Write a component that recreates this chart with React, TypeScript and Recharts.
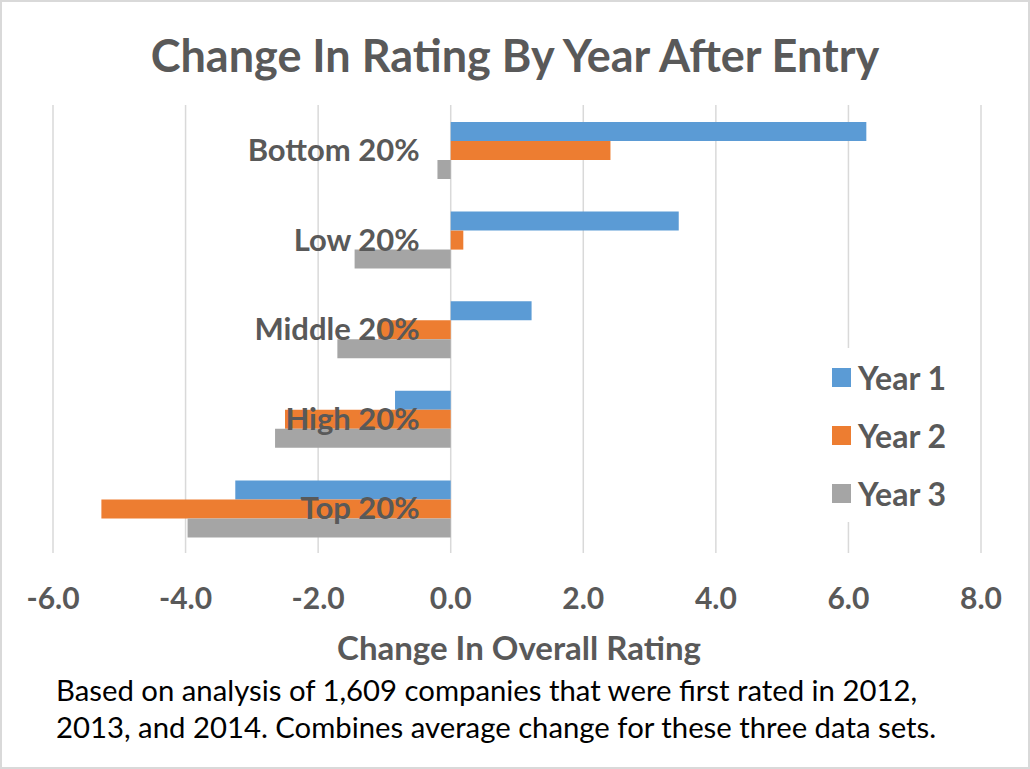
import { BarChart, Bar, XAxis, YAxis, CartesianGrid, Legend } from 'recharts';

// data
const categories = ['Bottom 20%', 'Low 20%', 'Middle 20%', 'High 20%', 'Top 20%'];
const year1 = [6.27, 3.44, 1.22, -0.84, -3.25];
const year2 = [2.41, 0.19, -1.09, -2.5, -5.27];
const year3 = [-0.2, -1.45, -1.71, -2.65, -3.97];
const seriesNames = ['Year 1', 'Year 2', 'Year 3'];
const xTicks = [-6, -4, -2, 0, 2, 4, 6, 8];

const colors = ['#5b9bd5', '#ed7d31', '#a5a5a5'];
const textGray = '#595959';
const font = 'Lato, "Open Sans", sans-serif';

const data = categories.map((name, i) => ({
    name,
    y1: year1[i],
    y2: year2[i],
    y3: year3[i],
}));

const W = 1030;
const H = 769;
const xAxisHeight = 60;
const yAxisWidth = 1;
const margin = { top: 105, right: 49, bottom: 216 - xAxisHeight, left: 53 - yAxisWidth };
const plotLeft = margin.left + yAxisWidth;
const plotWidth = W - plotLeft - margin.right;
const xMin = xTicks[0];
const xMax = xTicks[xTicks.length - 1];
// category labels sit next to the zero line, like Excel does
const zeroX = plotLeft + ((0 - xMin) / (xMax - xMin)) * plotWidth;

const CategoryTick = ({ y, payload }: any) => (
    <text
        x={zeroX - 31}
        y={y}
        dy="0.36em"
        textAnchor="end"
        fill={textGray}
        fontFamily={font}
        fontWeight={700}
        fontSize={31}
    >
        {payload.value}
    </text>
);

const ValueTick = ({ x, y, payload }: any) => (
    <text
        x={x}
        y={y + 56}
        textAnchor="middle"
        fill={textGray}
        fontFamily={font}
        fontWeight={700}
        fontSize={30}
    >
        {Number(payload.value).toFixed(1)}
    </text>
);

const AxisTitle = ({ viewBox }: any) => (
    <text
        x={viewBox.x + viewBox.width / 2 + 2}
        y={viewBox.y + 107}
        textAnchor="middle"
        fill={textGray}
        fontFamily={font}
        fontWeight={700}
        fontSize={33}
    >
        Change In Overall Rating
    </text>
);

const LegendContent = ({ payload }: any) => (
    <div style={{ background: '#fff', width: 145, fontFamily: font, fontWeight: 700, fontSize: 32, color: textGray }}>
        {(payload || []).map((entry: any) => (
            <div key={entry.value} style={{ height: 58, display: 'flex', alignItems: 'center' }}>
                <span style={{ display: 'inline-block', width: 19, height: 19, background: entry.color, marginLeft: 6, marginRight: 7 }} />
                <span>{entry.value}</span>
            </div>
        ))}
    </div>
);

export default function App() {
    return (
        <div style={{ position: 'absolute', left: 0, top: 0, width: W, height: H, background: '#fff' }}>
            <BarChart
                width={W}
                height={H}
                data={data}
                layout="vertical"
                margin={margin}
                barCategoryGap={17}
                barGap={0}
            >
                <CartesianGrid horizontal={false} stroke="#d9d9d9" strokeWidth={1.5} />
                <XAxis
                    type="number"
                    domain={[xMin, xMax]}
                    ticks={xTicks}
                    height={xAxisHeight}
                    axisLine={false}
                    tickLine={false}
                    tickSize={0}
                    tickMargin={0}
                    tick={<ValueTick />}
                    interval={0}
                    label={<AxisTitle />}
                />
                <YAxis
                    type="category"
                    dataKey="name"
                    width={yAxisWidth}
                    axisLine={false}
                    tickLine={false}
                    tickSize={0}
                    tick={<CategoryTick />}
                    interval={0}
                />
                <Legend
                    layout="vertical"
                    align="center"
                    verticalAlign="middle"
                    content={<LegendContent />}
                    wrapperStyle={{ position: 'absolute', left: 826, top: 348, width: 145 }}
                />
                <Bar dataKey="y1" name={seriesNames[0]} fill={colors[0]} isAnimationActive={false} />
                <Bar dataKey="y2" name={seriesNames[1]} fill={colors[1]} isAnimationActive={false} />
                <Bar dataKey="y3" name={seriesNames[2]} fill={colors[2]} isAnimationActive={false} />
            </BarChart>
            <svg width={W} height={H} style={{ position: 'absolute', left: 0, top: 0, pointerEvents: 'none' }}>
                <text x={515} y={72} textAnchor="middle" fill={textGray} fontFamily={font} fontWeight={700} fontSize={45}>
                    Change In Rating By Year After Entry
                </text>
                <text x={56} y={701} fill="#000" fontFamily={font} fontSize={29.3}>
                    Based on analysis of 1,609 companies that were first rated in 2012,
                </text>
                <text x={56} y={738} fill="#000" fontFamily={font} fontSize={29.3}>
                    2013, and 2014. Combines average change for these three data sets.
                </text>
            </svg>
            <div style={{ position: 'absolute', left: 0, top: 0, width: W, height: H, boxSizing: 'border-box', border: '2px solid #d9d9d9', pointerEvents: 'none' }} />
        </div>
    );
}
